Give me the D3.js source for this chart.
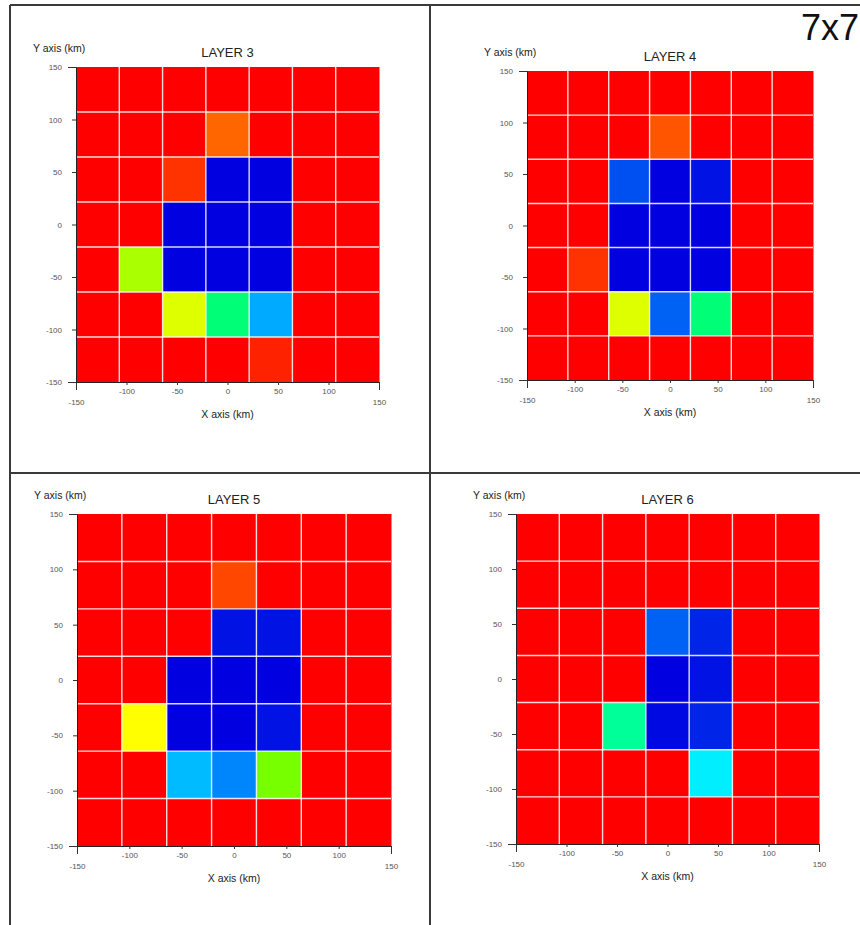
<!DOCTYPE html>
<html>
<head>
<meta charset="utf-8">
<script src="https://cdn.jsdelivr.net/npm/d3@7"></script>
<style>
  html, body { margin: 0; padding: 0; background: #fff; }
  svg { display: block; font-family: "Liberation Sans", Arial, sans-serif; }
</style>
</head>
<body>
<svg id="chart" width="860" height="925"></svg>
<script>
// Layer titles, one per panel
const layerNames = ["LAYER 3", "LAYER 4", "LAYER 5", "LAYER 6"];

// Normalised cell values on the 7x7 grid (0 = slowest / blue, 1 = fastest / red).
// Rows are listed from north (Y = 150) to south (Y = -150), columns west to east.
const layer3 = [
  [1, 1, 1,     1,     1,     1, 1],
  [1, 1, 1,     0.9,   1,     1, 1],
  [1, 1, 0.95,  0,     0,     1, 1],
  [1, 1, 0,     0,     0,     1, 1],
  [1, 0.667, 0, 0,     0,     1, 1],
  [1, 1, 0.717, 0.383, 0.167, 1, 1],
  [1, 1, 1,     1,     0.967, 1, 1]
];
const layer4 = [
  [1, 1,    1,     1,     1,     1, 1],
  [1, 1,    1,     0.917, 1,     1, 1],
  [1, 1,    0.083, 0,     0.02,  1, 1],
  [1, 1,    0,     0,     0,     1, 1],
  [1, 0.95, 0,     0,     0,     1, 1],
  [1, 1,    0.717, 0.1,   0.383, 1, 1],
  [1, 1,    1,     1,     1,     1, 1]
];
const layer5 = [
  [1, 1,    1,     1,     1,     1, 1],
  [1, 1,    1,     0.93,  1,     1, 1],
  [1, 1,    1,     0.02,  0.02,  1, 1],
  [1, 1,    0,     0,     0,     1, 1],
  [1, 0.75, 0,     0,     0.02,  1, 1],
  [1, 1,    0.183, 0.133, 0.617, 1, 1],
  [1, 1,    1,     1,     1,     1, 1]
];
const layer6 = [
  [1, 1, 1,    1,    1,     1, 1],
  [1, 1, 1,    1,    1,     1, 1],
  [1, 1, 1,    0.1,  0.04,  1, 1],
  [1, 1, 1,    0,    0.02,  1, 1],
  [1, 1, 0.35, 0.01, 0.04,  1, 1],
  [1, 1, 1,    1,    0.233, 1, 1],
  [1, 1, 1,    1,    1,     1, 1]
];
const layers = [layer3, layer4, layer5, layer6];

// Axis extent and tick values (km)
const extent = [-150, 150];
const xTicks = [-150, -100, -50, 0, 50, 100, 150];
const yTicks = [-150, -100, -50, 0, 50, 100, 150];

// Plot rectangles of the four panels (left, right, top, bottom in px)
const plotBoxes = [
  { l: 76,  r: 379, t: 67,  b: 382 },
  { l: 527, r: 813, t: 71,  b: 380 },
  { l: 77,  r: 391, t: 514, b: 846 },
  { l: 516, r: 819, t: 514, b: 844 }
];

// Rainbow colour ramp: blue (low) through cyan, green, yellow to red (high)
function rainbow(v) {
  const hue = 240 * (1 - v);
  const light = v < 0.15 ? 0.44 + 0.06 * (v / 0.15) : 0.5;
  return d3.hsl(hue, 1, light).formatHex();
}

// Plain hyphen-minus labels
const plainFormat = d => String(d);

const svg = d3.select("#chart");

// Panel frame
const frame = svg.append("g").attr("stroke", "#3a3a3a").attr("stroke-width", 2);
frame.append("line").attr("x1", 10).attr("x2", 860).attr("y1", 5).attr("y2", 5);
frame.append("line").attr("x1", 10).attr("x2", 10).attr("y1", 5).attr("y2", 925);
frame.append("line").attr("x1", 430).attr("x2", 430).attr("y1", 5).attr("y2", 925);
frame.append("line").attr("x1", 10).attr("x2", 860).attr("y1", 473).attr("y2", 473);

// Grid size label
svg.append("text")
  .attr("x", 859).attr("y", 40)
  .attr("text-anchor", "end")
  .attr("font-size", 36).attr("fill", "#111")
  .text("7x7");

layers.forEach((grid, k) => {
  const box = plotBoxes[k];
  const x = d3.scaleLinear().domain(extent).range([box.l, box.r]);
  const y = d3.scaleLinear().domain(extent).range([box.b, box.t]);
  const n = grid.length;
  const step = (extent[1] - extent[0]) / n;

  const g = svg.append("g");

  // Cells
  const cells = [];
  grid.forEach((row, i) => row.forEach((v, j) => {
    cells.push({
      x0: extent[0] + j * step,
      x1: extent[0] + (j + 1) * step,
      y1: extent[1] - i * step,
      y0: extent[1] - (i + 1) * step,
      v
    });
  }));
  g.selectAll("rect.cell").data(cells).join("rect")
    .attr("class", "cell")
    .attr("x", d => x(d.x0))
    .attr("y", d => y(d.y1))
    .attr("width", d => x(d.x1) - x(d.x0) + 0.5)
    .attr("height", d => y(d.y0) - y(d.y1) + 0.5)
    .attr("fill", d => rainbow(d.v));

  // Cell boundaries
  const bounds = d3.range(1, n).map(i => extent[0] + i * step);
  g.selectAll("line.vgrid").data(bounds).join("line")
    .attr("class", "vgrid")
    .attr("x1", d => x(d)).attr("x2", d => x(d))
    .attr("y1", box.t).attr("y2", box.b)
    .attr("stroke", "#fff").attr("stroke-opacity", 0.85).attr("stroke-width", 1.4);
  g.selectAll("line.hgrid").data(bounds).join("line")
    .attr("class", "hgrid")
    .attr("y1", d => y(d)).attr("y2", d => y(d))
    .attr("x1", box.l).attr("x2", box.r)
    .attr("stroke", "#fff").attr("stroke-opacity", 0.85).attr("stroke-width", 1.4);

  // X axis
  const xAxis = g.append("g")
    .attr("transform", `translate(0,${box.b})`)
    .call(d3.axisBottom(x).tickValues(xTicks).tickFormat(plainFormat)
      .tickSize(3).tickSizeOuter(0).tickPadding(3));
  xAxis.select(".domain").attr("stroke", "#222");
  xAxis.selectAll(".tick line").attr("stroke", "#333");
  xAxis.selectAll(".tick text").attr("font-size", 8).attr("fill", "#555")
    .attr("font-family", "Liberation Sans, Arial, sans-serif");
  xAxis.selectAll(".tick").filter(d => d === extent[0] || d === extent[1])
    .each(function () {
      d3.select(this).select("line").attr("y2", 8);
      d3.select(this).select("text").attr("y", 17);
    });

  // Y axis
  const yAxis = g.append("g")
    .attr("transform", `translate(${box.l},0)`)
    .call(d3.axisLeft(y).tickValues(yTicks).tickFormat(plainFormat)
      .tickSize(4).tickSizeOuter(0).tickPadding(10));
  yAxis.select(".domain").attr("stroke", "#222");
  yAxis.selectAll(".tick line").attr("stroke", "#333");
  yAxis.selectAll(".tick text").attr("font-size", 8).attr("fill", "#555")
    .attr("font-family", "Liberation Sans, Arial, sans-serif");
  yAxis.selectAll(".tick").filter(d => d === extent[0] || d === extent[1])
    .select("line").attr("x2", -8);

  // Titles
  const cx = (box.l + box.r) / 2;
  g.append("text")
    .attr("x", cx).attr("y", box.t - 10)
    .attr("text-anchor", "middle")
    .attr("font-size", 13).attr("fill", "#222")
    .text(layerNames[k]);
  g.append("text")
    .attr("x", box.l - 43).attr("y", box.t - 15)
    .attr("font-size", 10.5).attr("fill", "#222")
    .text("Y axis (km)");
  g.append("text")
    .attr("x", cx).attr("y", box.b + 36)
    .attr("text-anchor", "middle")
    .attr("font-size", 10.5).attr("fill", "#222")
    .text("X axis (km)");
});
</script>
</body>
</html>
